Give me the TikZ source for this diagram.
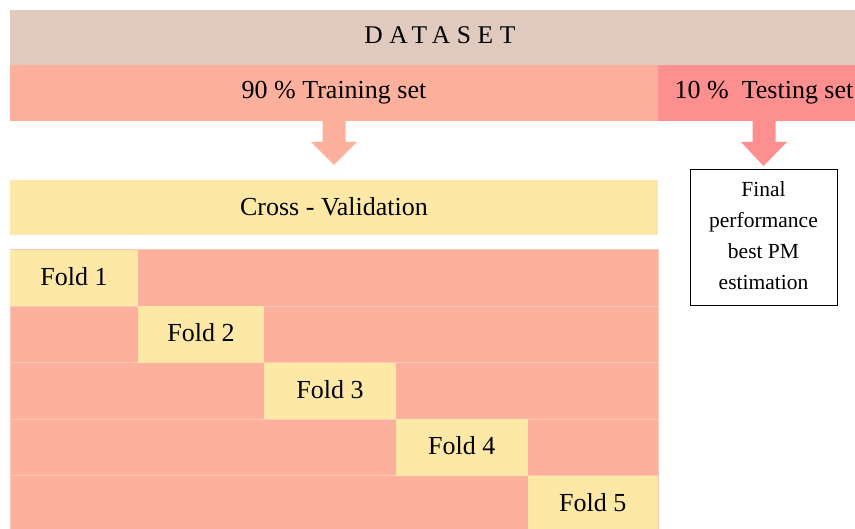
\documentclass[tikz,border=0pt]{standalone}
\usepackage{fontspec}
\setmainfont{Liberation Serif}
\usetikzlibrary{calc}
\definecolor{dsband}{RGB}{224,202,190}
\definecolor{trainc}{RGB}{253,177,157}
\definecolor{testc}{RGB}{253,143,143}
\definecolor{foldc}{RGB}{253,232,166}
\definecolor{rowline}{RGB}{255,200,186}
\begin{document}
\begin{tikzpicture}[x=1pt,y=-1pt,
  blk/.style={anchor=north west, inner sep=0pt, outer sep=0pt, rectangle},
  bigtxt/.style={font=\fontsize{26}{30}\selectfont},
  rowbox/.style={blk, fill=trainc, draw=rowline, line width=0.8pt, minimum width=648pt, minimum height=56.5pt},
  foldbox/.style={blk, fill=foldc, minimum height=56.5pt, bigtxt}
]
\useasboundingbox (0,0) rectangle (855,529);
% top bands
\node[blk, fill=dsband, minimum width=860pt, minimum height=55pt,
      font=\fontsize{25.5}{30}\selectfont\addfontfeature{LetterSpace=26}] (ds) at (10,10) {\raisebox{4pt}{DATASET}};
\node[blk, fill=trainc, minimum width=648pt, minimum height=56pt, bigtxt] (train) at (10,65) {\raisebox{1pt}{90 \% Training set}};
\node[blk, fill=testc, minimum width=212pt, minimum height=56pt, bigtxt] (test) at (658,65) {\raisebox{1pt}{10 \%\ \ Testing set}};
% cross validation
\node[blk, fill=foldc, minimum width=648pt, minimum height=55pt, bigtxt] (cv) at (10,180) {\raisebox{2pt}{Cross - Validation}};
% final box
\node[blk, draw=black, line width=0.8pt, minimum width=147pt, minimum height=136pt,
      font=\fontsize{21.5}{31}\selectfont] (final) at (690,169)
      {\raisebox{2pt}{\begin{tabular}{@{}c@{}}Final\\performance\\best PM\\estimation\end{tabular}}};
% arrows
\coordinate (a1top) at (train.south);
\coordinate (a1tip) at ($(cv.north)+(0,-15)$);
\fill[trainc] ($(a1top)+(-11.5,0)$) -- ($(a1top)+(-11.5,21)$) -- ($(a1top)+(-23,21)$) -- (a1tip)
  -- ($(a1top)+(23,21)$) -- ($(a1top)+(11.5,21)$) -- ($(a1top)+(11.5,0)$) -- cycle;
\coordinate (a2top) at (test.south);
\coordinate (a2tip) at ($(final.north)+(0,-3)$);
\fill[testc] ($(a2top)+(-11.5,0)$) -- ($(a2top)+(-11.5,21)$) -- ($(a2top)+(-23,21)$) -- (a2tip)
  -- ($(a2top)+(23,21)$) -- ($(a2top)+(11.5,21)$) -- ($(a2top)+(11.5,0)$) -- cycle;
% rows
\node[rowbox] (row1) at (10,249.5) {};
\node[rowbox] (row2) at (10,306) {};
\node[rowbox] (row3) at (10,362.5) {};
\node[rowbox] (row4) at (10,419) {};
\node[rowbox] (row5) at (10,475.5) {};
% folds
\node[foldbox, minimum width=128pt] (fold1) at (10,250) {\raisebox{4pt}{Fold 1}};
\node[foldbox, minimum width=126pt] (fold2) at (138,306.5) {\raisebox{4pt}{Fold 2}};
\node[foldbox, minimum width=132pt] (fold3) at (264,363) {\raisebox{4pt}{Fold 3}};
\node[foldbox, minimum width=131.5pt] (fold4) at (396,419.5) {\raisebox{4pt}{Fold 4}};
\node[foldbox, minimum width=130.5pt] (fold5) at (527.5,476) {\raisebox{4pt}{Fold 5}};
\end{tikzpicture}
\end{document}
